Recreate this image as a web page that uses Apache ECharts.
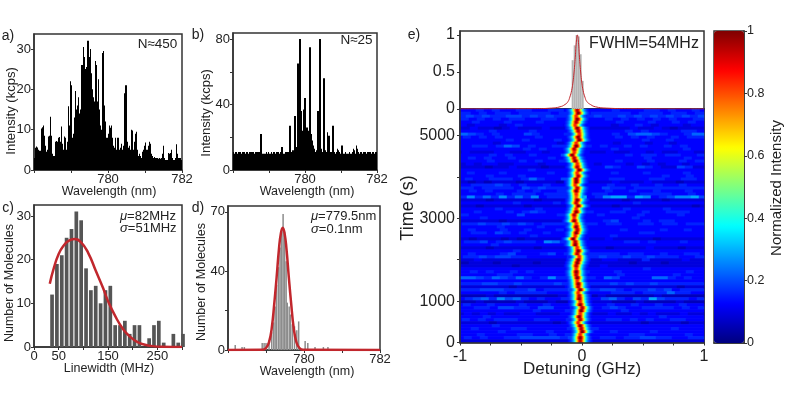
<!DOCTYPE html>
<html>
<head>
<meta charset="utf-8">
<title>Molecule spectra</title>
<script src="https://cdn.jsdelivr.net/npm/echarts@6/dist/echarts.min.js"></script>
<style>
body{margin:0;background:#fff;}
#main{width:793px;height:397px;}
</style>
</head>
<body>
<div id="main"></div>
<script>
// a) ensemble spectrum, one value per pixel column
var spectrumA=[3,5.5,5.8,5.6,5,4.8,4.8,10.3,10.6,11,8.5,6,4.5,5,8.3,8.5,13.2,8.5,4,3.5,3.5,7,7.2,7,8,8.2,7,10.8,6.5,5,8.3,8,5,7,15.8,11,22,21,8,9,13,19.6,15,16,18,14,15,26,26,30.5,28,25,25.5,32,32,28,30,24,20,18,17,27,26,17,22.5,15,11,10,29,29.5,16,12,8,8,9,11,10.5,11,8,6,5.5,8,5,8,8,5,5.5,6.5,5,6,19,21,21,7,5.5,6,5,10,9.8,5,7,9,9.5,5,3.5,4,3.5,3,4.5,5,6,6.8,5,5,6,7,6.5,4,3.5,3,3.2,3,3,3,2.8,3,2.8,3,4,6,3,2.5,2.5,2.5,4.2,4,4.2,5,3,2.5,2.5,3,6.4,4,3,3,3,2.5];
// b) few molecules
var spectrumB=[11,10,11,11,10,11,11,11,10,11,11,11,10,11,11,10,11,11,11,11,11,10,11,11,11,11,11,22,22,10,10,10,10,11,10,11,10,10,11,10,11,11,10,11,11,11,10,11,14,14,10,10,11,11,11,11,27,27,11,12,12,33,33,14,65,65,80,80,36,24,37,44,44,26,26,24,75,75,22,18,15,13,11,12,36,36,80,80,13,11,56,56,12,11,23,21,21,11,11,27,27,11,10,11,13,12,11,10,15,15,10,10,11,10,10,10,11,10,10,11,13,12,10,15,13,11,10,11,11,10,11,11,11,10,11,11,11,11,10,11,11,10,11,11];
// c) linewidth histogram
var linewidthBins=[36.6,46.4,56.3,66.1,76,85.8,95.6,105.5,115.3,125.1,135,144.8,154.7,164.5,174.3,184.2,194,203.8,213.7,223.5,233.4,243.2,253,262.9,272.7,282.5,292.4,302];
var linewidthCounts=[12,19,21,25,27,31,29,18,13,14,10,13,14,5,5,6,3,5,5,0,2,5,6,1,0,3,1,3];
var linewidthFitX=[32,40,50,60,70,82,95,110,125,140,150,165,180,195,210,225,240,260,300];
var linewidthFitY=[14.5,18,21.3,23.2,24.3,24.7,24,21.5,17.5,13.5,10.5,7,4.2,2.3,1.1,0.5,0.2,0.05,0];
// d) wavelength histogram
var waveBins=[778.19,778.37,778.43,778.9,778.95,779,779.08,779.15,779.2,779.24,779.28,779.33,779.37,779.41,779.45,779.49,779.53,779.56,779.61,779.64,779.69,779.75,779.81,779.86,780.03,780.1,780.29,780.51,780.63];
var waveCounts=[2.5,1.5,1.5,3.5,3.5,3.5,5,9,14,22,33,42,52,60,69,60,45,24,22,18,13,12,10,14.5,4.5,3.5,1.5,1.5,1.5];
var waveFitX=[778,778.9,779,779.08,779.15,779.22,779.28,779.34,779.39,779.44,779.49,779.54,779.6,779.66,779.73,779.8,779.88,779.98,782];
var waveFitY=[0,0.1,1,4,11,24,37,51,59,62,59,51,37,24,11,4,1,0.1,0];
// e) averaged line on top of the time trace
var detuningBins=[-0.0765,-0.06,-0.0437,-0.027,-0.011,0.0055];
var detuningCounts=[0.66,0.86,1,0.98,0.74,0.38];
var lineFitX=[-1,-0.4,-0.25,-0.18,-0.14,-0.115,-0.1,-0.085,-0.075,-0.065,-0.055,-0.047,-0.038,-0.029,-0.021,-0.011,-0.001,0.009,0.024,0.04,0.07,0.11,0.2,0.4,1];
var lineFitY=[0,0.004,0.012,0.03,0.06,0.1,0.16,0.25,0.35,0.5,0.7,0.9,1,0.9,0.7,0.5,0.35,0.25,0.16,0.1,0.06,0.03,0.012,0.004,0];
// e) time trace: position of the line per row (MHz), its brightness, and the row backgrounds
var rowCenters=[-38,-30,-44,-33,-49,-52,-38,-27,-22,-30,-22,-41,-46,-63,-63,-74,-60,-52,-38,-36,-22,-38,-27,-41,-44,-57,-38,-49,-49,-44,-33,-46,-30,-44,-46,-60,-60,-63,-49,-41,-33,-49,-57,-71,-52,-57,-38,-30,-33,-19,-30,-38,-49,-49,-44,-41,-38,-38,-30,-27,-14,-25,-22,-22,-11,-11,3,-8,-11,-22,-14,-25,-11,-8,3,-16,-16,-11];
var rowPeaks=[0.95,1,0.85,1,0.95,0.85,1,0.95,0.85,1,1,0.85,1,0.95,0.85,1,0.95,1,0.85,0.95,1,0.85,0.95,1,1,0.85,0.95,1,0.85,0.8,1,0.95,1,0.85,1,0.95,0.85,1,0.85,1,0.95,1,0.85,1,0.95,1,0.85,1,0.95,0.85,1,1,0.95,0.85,1,0.95,1,0.85,1,0.95,1,0.85,0.95,1,0.85,1,0.95,1,0.85,1,0.95,0.85,1,0.95,1,0.85,1,0.95];
var lineShape=[1,0.97,0.85,0.72,0.6,0.47,0.36,0.29,0.24,0.2,0.17,0.15,0.13];
var backgroundRows=[
"3343433443344333333433344343343","4434344344443443344444344434434","4545445545454445454454545454545","3434343443344333333434343434334",
"3343334333433333333343334334343","3233323433333233333233432333233","2232212322232212222222322321222","3333433334333333333334343333443",
"6543433354333443333435665433466","3434343333433333333343434334344","3333334343334333333333343343333","2333323333333233333323332332333",
"3344346534334444434334343343433","3333333343433333333433333333433","2322233223323333322322332322332","3333434334333553333334344344334",
"3434334333343333333333343333433","3333433343433433333343334333434","2323322333233333323332323233233","2222122322212233333543354322542",
"3333333334333333333333333333333","3433343333343333333433343333433","3333433343333333333333333343343","3433444346433553333443334433443",
"2121222122221222222322232221222","3344454343343343333433433433433","4434444354544443335443444444444","3343433343433443333433433433343",
"3333343444344453344333344443343","4746474647344478347884873457785","2222122222122222222221222212222","3333333433334333333333433333333",
"2212222212222222222122222222212","3333343333433333333334333343333","3343334345433344433443343344433","3433333353333443334333343333433",
"3334333333333333333333433333333","2222212222222333334533343443333","3445445454344444443443344344344","3333343333433333333333333333333",
"3433343343334333333343333433433","3344354343343343333333344333333","3333333334333333333433333333333","2212221212222223322322222122222",
"3445345444376443333334434333433","3333433333333343333333333333333","2222122222122222222122223222122","3333333433333333333333333333333",
"3433345333453444444434433433443","3445455443333344445445445444334","2232222222222222223322242222322","2122212222122222222222122212222",
"2222222122222222223222222222222","3333333333333333333333343333333","3343433434333344433343333333343","3333344333333343333343333334333",
"6654654643474444436533336643433","3333333333333333333333333333333","4445544544445444444545445444444","2222222122222233322222222222122",
"4445554445344454445543445453444","3333343444433343333444344464433","1111211111111222212111111211111","3456475643433443335643548544434",
"1121111211121122222111211112111","3433433343343333333433433433433","3344355443553343334543344443434","3333333333433343333334333333333",
"2323232233222333322322323222322","3334333333333333333333333433333","3434344433443343333443434334433","2222122222221222222222212222122",
"3333433333333333333333333333333","3343333443333344443333333334333","3333343333343333333433334333333","3334333344334344433333443333343",
"3434334455555454334434455443344","2222222222222222222222222222222"];
var jetColors=['#00007f','#0000ff','#007fff','#00ffff','#7fff7f','#ffff00','#ff7f00','#ff0000','#7f0000'];

var textColor='#222';
var frameColor='#333';
var fitColor='#c1272d';
var fontName='"Liberation Sans",Arial,sans-serif';
var colCount=244;
var segmentCols=8;

function pairs(xs,ys){
    var out=[];
    for(var i=0;i<xs.length;i++){
        out.push([xs[i],ys[i]]);
    }
    return out;
}

function spectrumPairs(values){
    var out=[];
    for(var i=0;i<values.length;i++){
        out.push([778+(i+0.5)*4/values.length,values[i]]);
    }
    return out;
}

function buildTrace(){
    var cells=[];
    for(var r=0;r<backgroundRows.length;r++){
        var centerCol=Math.round((rowCenters[r]/1000+1)/2*colCount-0.5);
        // streaks in neighbouring rows do not line up in the picture
        var shift=(r*5)%segmentCols;
        for(var c=0;c<colCount;c++){
            var seg=Math.min(Math.floor((c+shift)/segmentCols),30);
            var v=0.125+(Number(backgroundRows[r].charAt(seg))-3)*0.033;
            var dist=Math.abs(c-centerCol);
            if(dist<lineShape.length){
                v=Math.max(v,rowPeaks[r]*lineShape[dist]);
            }
            cells.push([c,r,v]);
        }
    }
    return cells;
}

function indexList(n){
    var out=[];
    for(var i=0;i<n;i++){
        out.push(String(i));
    }
    return out;
}

function plotGrid(l,t,r,b){
    return {left:l,top:t,width:r-l,height:b-t,show:true,borderColor:frameColor,borderWidth:1.5,backgroundColor:'transparent'};
}

function valueAxis(gridIndex,min,max,ticks,labels,fontSize,margin,extra){
    var axis={
        type:'value',gridIndex:gridIndex,min:min,max:max,scale:true,splitLine:{show:false},
        axisLine:{show:true,onZero:false,lineStyle:{color:frameColor,width:1.5}},
        axisTick:{show:ticks.length>0,length:3,customValues:ticks,lineStyle:{color:frameColor}},
        axisLabel:{
            show:labels.length>0,customValues:labels,color:textColor,fontSize:fontSize,fontFamily:fontName,margin:margin,hideOverlap:false,
            formatter:function(v){return String(v);}
        }
    };
    if(extra){
        for(var k in extra){
            axis[k]=extra[k];
        }
    }
    return axis;
}

function label(text,x,y,size,rotated){
    return {
        type:'text',x:x,y:y,rotation:rotated?Math.PI/2:0,z:20,
        style:{text:text,fill:textColor,font:size+'px '+fontName,align:'center',verticalAlign:'middle'}
    };
}

function mathLabel(symbol,text,x,y,size){
    return {
        type:'text',x:x,y:y,z:20,
        style:{
            text:'{m|'+symbol+'}{t|'+text+'}',align:'left',verticalAlign:'middle',
            rich:{
                m:{fill:textColor,font:'italic '+size+'px '+fontName},
                t:{fill:textColor,font:size+'px '+fontName}
            }
        }
    };
}

function spectrumSeries(i,values){
    return {
        type:'bar',xAxisIndex:i,yAxisIndex:i,data:spectrumPairs(values),barWidth:1,
        itemStyle:{color:'#000'},silent:true,z:1
    };
}

function fitSeries(i,xs,ys,width){
    return {
        type:'line',xAxisIndex:i,yAxisIndex:i,data:pairs(xs,ys),smooth:true,showSymbol:false,
        lineStyle:{color:fitColor,width:width},silent:true,z:5
    };
}

function barSeries(i,xs,ys,color,width){
    return {
        type:'bar',xAxisIndex:i,yAxisIndex:i,data:pairs(xs,ys),barWidth:width,
        itemStyle:{color:color},silent:true,z:2
    };
}

var wavelengthTicks=[778,779,780,781,782];
var wavelengthLabels=[780,782];

var option={
    backgroundColor:'#fff',
    animation:false,
    tooltip:{show:false},
    grid:[
        plotGrid(34,34,182,170),
        plotGrid(233,33,377,170),
        plotGrid(34,205,182,347),
        plotGrid(228,206,380,350),
        plotGrid(460,31,704,109),
        plotGrid(460,109,704,342.5),
        plotGrid(460,109,704,342.5),
        plotGrid(714,31,744,343)
    ],
    xAxis:[
        valueAxis(0,778,782,wavelengthTicks,wavelengthLabels,13,3),
        valueAxis(1,778,782,wavelengthTicks,wavelengthLabels,13,3),
        valueAxis(2,0,300,[0,50,100,150,200,250,300],[0,50,150,250],13,3),
        valueAxis(3,778,782,wavelengthTicks,wavelengthLabels,13,3),
        valueAxis(4,-1,1,[],[],12,3),
        {type:'category',gridIndex:5,data:indexList(colCount),show:false},
        valueAxis(6,-1,1,[-1,-0.75,-0.5,-0.25,0,0.25,0.5,0.75,1],[-1,0,1],16,6,{z:10}),
        valueAxis(7,0,1,[],[],12,3)
    ],
    yAxis:[
        valueAxis(0,0,33.7,[0,10,20,30],[0,10,20,30],13,3),
        valueAxis(1,0,83.7,[0,20,40,60,80],[0,40,80],13,3),
        valueAxis(2,0,32.5,[0,10,20,30],[0,10,20,30],13,3),
        valueAxis(3,0,73,[0,20,40,70],[0,40,70],13,3),
        valueAxis(4,0,1.054,[0,0.5,1],[0,0.5,1],16,5),
        {type:'category',gridIndex:5,data:indexList(backgroundRows.length),show:false,inverse:true},
        valueAxis(6,0,5640,[0,1000,2000,3000,4000,5000],[0,1000,3000,5000],16,5,{z:10}),
        valueAxis(7,0,1,[0,0.2,0.4,0.6,0.8,1],[0,0.2,0.4,0.6,0.8,1],12.5,3,{position:'right'})
    ],
    visualMap:{
        type:'continuous',seriesIndex:9,min:0,max:1,left:714,top:31,itemWidth:30,itemHeight:312,padding:0,
        calculable:false,realtime:false,hoverLink:false,inRange:{color:jetColors},text:null,textStyle:{fontSize:0}
    },
    series:[
        spectrumSeries(0,spectrumA),
        spectrumSeries(1,spectrumB),
        barSeries(2,linewidthBins,linewidthCounts,'#555',3.7),
        fitSeries(2,linewidthFitX,linewidthFitY,2.5),
        barSeries(3,waveBins,waveCounts,'#8c8c8c',1.5),
        fitSeries(3,waveFitX,waveFitY,2.5),
        barSeries(4,detuningBins,detuningCounts,'#b4b4b4',2),
        fitSeries(4,lineFitX,lineFitY,1),
        {type:'line',xAxisIndex:6,yAxisIndex:6,data:[],showSymbol:false},
        {
            type:'heatmap',xAxisIndex:5,yAxisIndex:5,data:buildTrace(),progressive:0,silent:true,
            itemStyle:{borderWidth:0},emphasis:{disabled:true}
        }
    ],
    graphic:[
        label('a)',8,36,14),label('b)',198,35,14),label('c)',8,208,14),label('d)',198,208,14),label('e)',414,35,14),
        label('N≈450',157.5,44,13.5),label('N≈25',356.5,40,13.5),
        mathLabel('μ','=82MHz',120,216,13),mathLabel('σ','=51MHz',120,228,13),
        mathLabel('μ','=779.5nm',311,216,13),mathLabel('σ','=0.1nm',311,229,13),
        label('FWHM=54MHz',644,44,16),
        label('Intensity (kcps)',11,111,13,true),label('Wavelength (nm)',109,192,12.5),
        label('Intensity (kcps)',206,113,13,true),label('Wavelength (nm)',307,192,12.5),
        label('Number of Molecules',10,283,12.5,true),label('Linewidth (MHz)',109,369,12.5),
        label('Number of Molecules',202,282,12.5,true),label('Wavelength (nm)',307,372,12.5),
        label('Time (s)',408,208,18,true),label('Detuning (GHz)',582,369,17),
        label('Normalized Intensity',777,188,15,true)
    ]
};

var myChart=echarts.init(document.getElementById('main'),null,{renderer:'canvas'});
myChart.setOption(option);
</script>
</body>
</html>
